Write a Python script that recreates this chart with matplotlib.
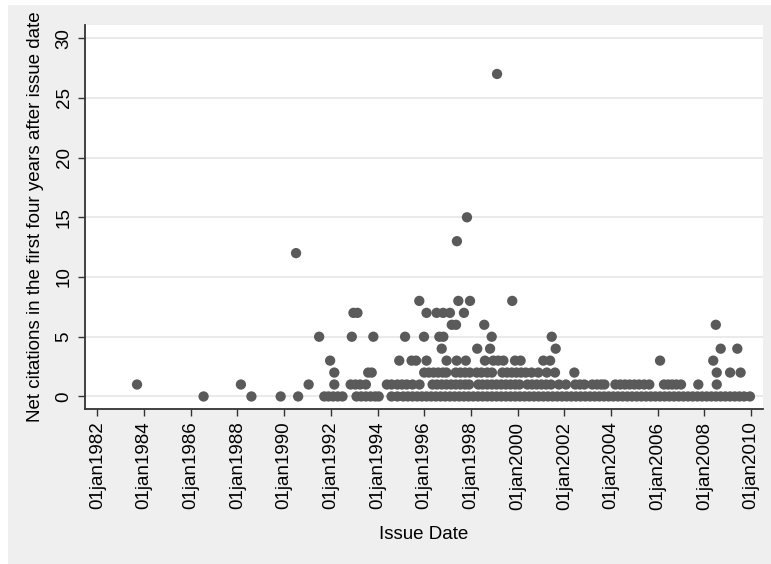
import numpy as np
import pandas as pd
import matplotlib
matplotlib.use('Agg')
import matplotlib.pyplot as plt
import matplotlib.dates as mdates
from matplotlib.patches import Rectangle
from matplotlib.ticker import FuncFormatter

plt.rcParams['font.family'] = ['Liberation Sans', 'DejaVu Sans']

# issue dates (decimal years), grouped by net citations in first four years
cites_0 = [1986.55, 1988.6, 1989.85, 1990.6, 1991.72, 1991.9, 1992.1, 1992.3, 1992.5,
           1993.1, 1993.3, 1993.5, 1993.7, 1993.9, 1994.05, 1994.6, 1994.85, 1995.1,
           1995.3, 1995.5, 1995.7, 1995.9, 1996.1, 1996.3, 1996.5, 1996.7, 1996.9,
           1997.1, 1997.3, 1997.5, 1997.7, 1997.9, 1998.1, 1998.3, 1998.5, 1998.7,
           1998.9, 1999.1, 1999.3, 1999.5, 1999.7, 1999.9, 2000.1, 2000.3, 2000.5,
           2000.7, 2000.9, 2001.1, 2001.3, 2001.5, 2001.7, 2001.9, 2002.1, 2002.3,
           2002.5, 2002.7, 2002.9, 2003.1, 2003.3, 2003.5, 2003.7, 2003.9, 2004.1,
           2004.3, 2004.5, 2004.7, 2004.9, 2005.1, 2005.3, 2005.5, 2005.7, 2005.9,
           2006.1, 2006.3, 2006.5, 2006.7, 2006.9, 2007.1, 2007.3, 2007.5, 2007.7,
           2007.9, 2008.1, 2008.3, 2008.5, 2008.7, 2008.9, 2009.1, 2009.3, 2009.5,
           2009.7, 2009.95]
cites_1 = [1983.7, 1988.15, 1991.05, 1992.15, 1992.85, 1993.05, 1993.25, 1993.5,
           1994.4, 1994.6, 1994.85, 1995.05, 1995.25, 1995.5, 1995.8,
           1996.36, 1996.55, 1996.75, 1996.95, 1997.15, 1997.35, 1997.55, 1997.75,
           1997.92, 1998.32, 1998.5, 1998.7, 1998.9, 1999.1, 1999.3, 1999.5, 1999.7,
           1999.9, 2000.08, 2000.42, 2000.62, 2000.82, 2001.02, 2001.22, 2001.43,
           2001.77, 2002.07,
           2002.47, 2002.67, 2002.86,
           2003.2, 2003.4, 2003.58, 2003.72,
           2004.19, 2004.4, 2004.6, 2004.8, 2005.0, 2005.2, 2005.42, 2005.64,
           2006.27, 2006.45, 2006.62, 2006.8, 2007.0,
           2007.74, 2008.53]
cites_2 = [1992.15, 1993.6, 1993.75, 1996.0, 1996.2, 1996.4, 1996.6, 1996.8, 1996.95,
           1997.35, 1997.55, 1997.75, 1997.95, 1998.25, 1998.45, 1998.7, 1998.9,
           1999.35, 1999.55, 1999.75, 1999.95, 2000.15, 2000.35, 2000.6, 2000.89,
           2001.25, 2001.6, 2002.43, 2008.53, 2009.1, 2009.55]
cites_3 = [1991.97, 1994.93, 1995.46, 1995.65, 1996.1, 1996.96, 1997.39, 1997.78,
           1998.6, 1998.96, 1999.17, 1999.39, 1999.89, 2000.13, 2001.1, 2001.39,
           2006.1, 2008.38]
cites_4 = [1996.75, 1998.27, 1998.82, 2001.63, 2008.7, 2009.41]
cites_5 = [1991.5, 1992.9, 1993.82, 1995.18, 1995.99, 1996.65, 1996.82, 1998.89,
           2001.46]
cites_6 = [1997.18, 1997.36, 1998.57, 2008.49]
cites_7 = [1992.97, 1993.14, 1996.1, 1996.53, 1996.81, 1997.1, 1997.7]
cites_8 = [1995.79, 1997.46, 1997.96, 1999.77]
cites_12 = [1990.51]
cites_13 = [1997.4]
cites_15 = [1997.83]
cites_27 = [1999.12]

groups = {0: cites_0, 1: cites_1, 2: cites_2, 3: cites_3, 4: cites_4, 5: cites_5,
          6: cites_6, 7: cites_7, 8: cites_8, 12: cites_12, 13: cites_13,
          15: cites_15, 27: cites_27}


def to_date(y):
    start = pd.Timestamp(int(y), 1, 1)
    return start + pd.Timedelta(days=(y - int(y)) * 365.25)


xs, ys = [], []
for c, yrs in groups.items():
    for yr in yrs:
        xs.append(to_date(yr))
        ys.append(c)

fig = plt.figure(figsize=(7.71, 5.64), dpi=100, facecolor='white')
fig.add_artist(Rectangle((8 / 771, 0), 1, 1 - 5 / 564, transform=fig.transFigure,
                         facecolor='#efefef', edgecolor='none', zorder=-10))
ax = fig.add_axes([85 / 771, 1 - 409 / 564, (763 - 85) / 771, (409 - 25) / 564])
ax.set_facecolor('white')

ax.scatter(mdates.date2num(xs), ys, s=55, color='#5a5a5a', edgecolors='none',
           zorder=3)

ax.set_xlim(mdates.date2num(to_date(1981.47)), mdates.date2num(to_date(2010.51)))
ax.set_ylim(-1.05, 31.1)

ticks = [pd.Timestamp(y, 1, 1) for y in range(1982, 2011, 2)]
ax.set_xticks(mdates.date2num(ticks))
ax.xaxis.set_major_formatter(FuncFormatter(
    lambda v, p: mdates.num2date(v).strftime('%d%b%Y').lower()))
ax.set_yticks(np.arange(0, 31, 5))
ax.yaxis.grid(True, color='#e4e4e4', linewidth=1.1)
ax.set_axisbelow(True)

for s in ['top', 'right']:
    ax.spines[s].set_visible(False)
for s in ['left', 'bottom']:
    ax.spines[s].set_color('#333333')
    ax.spines[s].set_linewidth(1.3)

ax.tick_params(axis='both', length=5, width=1, color='#333333', labelsize=13.5,
               labelcolor='black', pad=4)
plt.setp(ax.get_xticklabels(), rotation=90)
plt.setp(ax.get_yticklabels(), rotation=90, va='center')

ax.set_xlabel('Issue Date', fontsize=13.5, labelpad=12)
ax.set_ylabel('Net citations in the first four years after issue date',
              fontsize=13.5, labelpad=8)

fig.savefig('out.png', dpi=100, facecolor=fig.get_facecolor())
